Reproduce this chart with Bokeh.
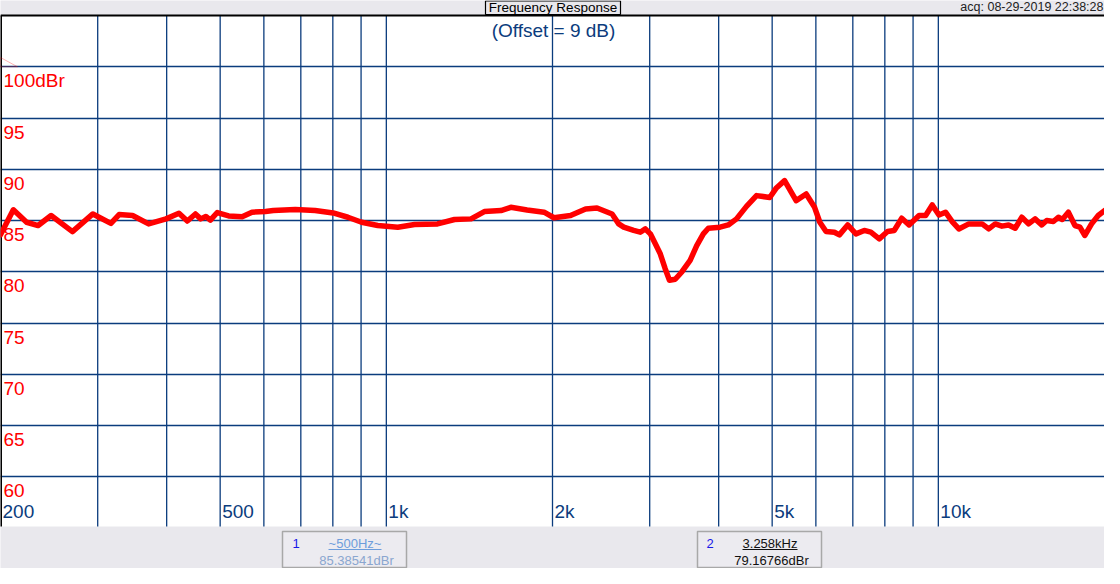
from bokeh.plotting import figure
from bokeh.models import FixedTicker, Range1d, Label, BoxAnnotation, PolyAnnotation, ColumnDataSource
from bokeh.core.properties import value
from bokeh.embed import file_html
from bokeh.resources import INLINE

# ---------------- data ----------------
freq_hz = [200, 211, 223, 234, 247, 270, 294, 317, 328, 347, 371, 399, 421, 436, 451,
           461, 471, 480, 494, 518, 548, 571, 604, 624, 684, 743, 801, 852, 902, 965,
           1049, 1125, 1238, 1329, 1424, 1505, 1613, 1681, 1799, 1931, 2012, 2156, 2296,
           2408, 2564, 2636, 2692, 2806, 2884, 2946, 3008, 3071, 3135, 3200, 3258, 3337,
           3430, 3551, 3650, 3752, 3831, 4022, 4164, 4309, 4492, 4684, 4950, 5082, 5266,
           5526, 5762, 5968, 6100, 6260, 6482, 6618, 6851, 7092, 7342, 7546, 7817, 8090,
           8318, 8585, 8851, 9226, 9484, 9750, 10026, 10304, 10595, 10894, 11356, 12002,
           12339, 12680, 13038, 13406, 13780, 14168, 14568, 14972, 15394, 15716, 16160,
           16498, 16774, 17202, 17680, 18050, 18428, 18950, 19482, 20000]
level_dbr = [83.6, 86.05, 84.83, 84.51, 85.49, 83.92, 85.64, 84.72, 85.58, 85.49, 84.67,
             85.16, 85.71, 84.95, 85.64, 85.16, 85.40, 85.03, 85.78, 85.45, 85.37, 85.81,
             85.87, 85.97, 86.07, 85.97, 85.74, 85.32, 84.83, 84.51, 84.35, 84.61, 84.67,
             85.10, 85.16, 85.87, 85.97, 86.29, 86.03, 85.81, 85.27, 85.49, 86.13, 86.22,
             85.64, 84.67, 84.35, 84.03, 83.86, 84.18, 83.70, 82.73, 81.75, 80.30, 79.17,
             79.27, 79.98, 81.11, 82.55, 83.70, 84.25, 84.35, 84.57, 85.16, 86.38, 87.43,
             87.25, 88.14, 88.89, 86.94, 87.59, 86.29, 84.83, 83.93, 83.86, 83.60, 84.57,
             83.70, 84.03, 83.86, 83.21, 83.93, 84.03, 85.22, 84.57, 85.49, 85.49, 86.52,
             85.54, 85.81, 84.90, 84.18, 84.67, 84.67, 84.18, 84.67, 84.45, 84.57, 84.25,
             85.32, 84.67, 85.16, 84.57, 85.00, 84.90, 85.32, 85.10, 85.81, 84.51, 84.35,
             83.54, 84.67, 85.49, 85.97]

x_grid_hz = [300, 400, 500, 600, 700, 800, 900, 1000, 2000, 3000, 4000, 5000, 6000,
             7000, 8000, 9000, 10000]
x_label_hz = [200, 500, 1000, 2000, 5000, 10000]
x_label_text = ["200", "500", "1k", "2k", "5k", "10k"]
y_grid_db = [60, 65, 70, 75, 80, 85, 90, 95, 100]
y_label_text = ["60", "65", "70", "75", "80", "85", "90", "95", "100dBr"]

x_start, x_end = 200, 20000
y_start, y_end = 55.15, 105.0
ref_level = 100

title_text = "Frequency Response"
acq_text = "acq: 08-29-2019 22:38:28"
offset_text = "(Offset = 9 dB)"
marker_ids = ["1", "2"]
marker_freq_text = ["~500Hz~", "3.258kHz"]
marker_level_text = ["85.38541dBr", "79.16766dBr"]

# ---------------- layout / styling ----------------
FONT = "Liberation Sans"
BG = "#e9e8ed"
GRID = "#0b3c7d"
RED = "#ff0000"

W, H = 1104, 568
HEAD, FOOT = 15, 42
plot_px = H - HEAD - FOOT
ppd = plot_px / (y_end - y_start)
y_lo = y_start - FOOT / ppd
y_hi = y_end + HEAD / ppd

p = figure(width=W, height=H, x_axis_type="log",
           x_range=Range1d(x_start, x_end), y_range=Range1d(y_lo, y_hi),
           x_axis_location=None, y_axis_location=None,
           output_backend="svg", toolbar_location=None,
           min_border=0)
p.title.visible = False
p.background_fill_color = BG
p.border_fill_color = BG
p.outline_line_color = None

# white graph area
p.quad(left=[x_start], right=[x_end], bottom=[y_start], top=[y_end],
       fill_color="white", line_color=None, level="image")

# horizontal grid through the library grid, vertical grid as segments limited to the graph area
p.xgrid.visible = False
p.ygrid.ticker = FixedTicker(ticks=y_grid_db)
p.ygrid.grid_line_color = GRID
p.ygrid.grid_line_width = 1.3
p.segment(x0=x_grid_hz, y0=[y_start] * len(x_grid_hz), x1=x_grid_hz, y1=[y_end] * len(x_grid_hz),
          line_color=GRID, line_width=1.3)

# borders of the graph area (top and left)
p.segment(x0=[x_start, x_start], y0=[y_start, y_end], x1=[x_start, x_end], y1=[y_end, y_end],
          line_color="black", line_width=[3, 2])

# reference level triangle
tri_w = x_start * 10 ** (17 / 554.5)
tri_h = 0.9
p.add_layout(PolyAnnotation(xs=[x_start, x_start, tri_w], ys=[ref_level, ref_level + tri_h, ref_level],
                            fill_alpha=0, line_color=RED, line_width=1))

# curve
src = ColumnDataSource(dict(f=freq_hz, db=level_dbr))
p.line("f", "db", source=src, line_color=RED, line_width=5.5, line_join="round", line_cap="round")

# y labels (inside plot, below each grid line)
p.text(x=[x_start] * len(y_grid_db), y=y_grid_db, text=y_label_text,
       text_color=RED, text_font=value(FONT), text_font_size="19px",
       text_align="left", text_baseline="middle", x_offset=3, y_offset=14)

# x labels (inside plot, near bottom)
p.text(x=x_label_hz, y=[y_start] * len(x_label_hz), text=x_label_text,
       text_color=GRID, text_font=value(FONT), text_font_size="19px",
       text_align="left", text_baseline="middle", x_offset=2, y_offset=-15)


def lab(x, y, text, size, color, align="center", baseline="middle"):
    p.add_layout(Label(x=x, y=y, x_units="screen", y_units="screen", text=text,
                       text_font=FONT, text_font_size=size, text_color=color,
                       text_align=align, text_baseline=baseline, level="overlay"))


def box(l, r, t, b, line_color, fill_color, lw=1):
    p.add_layout(BoxAnnotation(left=l, right=r, top=t, bottom=b,
                               left_units="screen", right_units="screen",
                               top_units="screen", bottom_units="screen",
                               fill_color=fill_color, fill_alpha=1,
                               line_color=line_color, line_width=lw, line_alpha=1,
                               level="overlay"))


# header
box(485, 620, 567.5, 554, "black", BG, 1.2)
lab(552.5, 561, title_text, "13.5px", "black")
lab(1103, 562, acq_text, "12.5px", "#222222", align="right")
lab(553, 538, offset_text, "19px", GRID)

# marker readouts
box(282, 406, 37, 1, "#a8a8a8", "#ecebf0", 1.5)
lab(292, 25, marker_ids[0], "13px", "#1818e8", align="left")
lab(354.5, 25, marker_freq_text[0], "13px", "#6d9ddb")
box(328, 381, 19.5, 18.5, None, "#6d9ddb")
lab(356, 8, marker_level_text[0], "13px", "#8aa6cf")

box(697, 821, 37, 1, "#a8a8a8", "#ecebf0", 1.5)
lab(706, 25, marker_ids[1], "13px", "#1818e8", align="left")
lab(769.5, 25, marker_freq_text[1], "13px", "#111111")
box(742, 797, 19.5, 18.5, None, "#111111")
lab(771, 8, marker_level_text[1], "13px", "#111111")

open("out.html", "w").write(file_html(p, INLINE))
